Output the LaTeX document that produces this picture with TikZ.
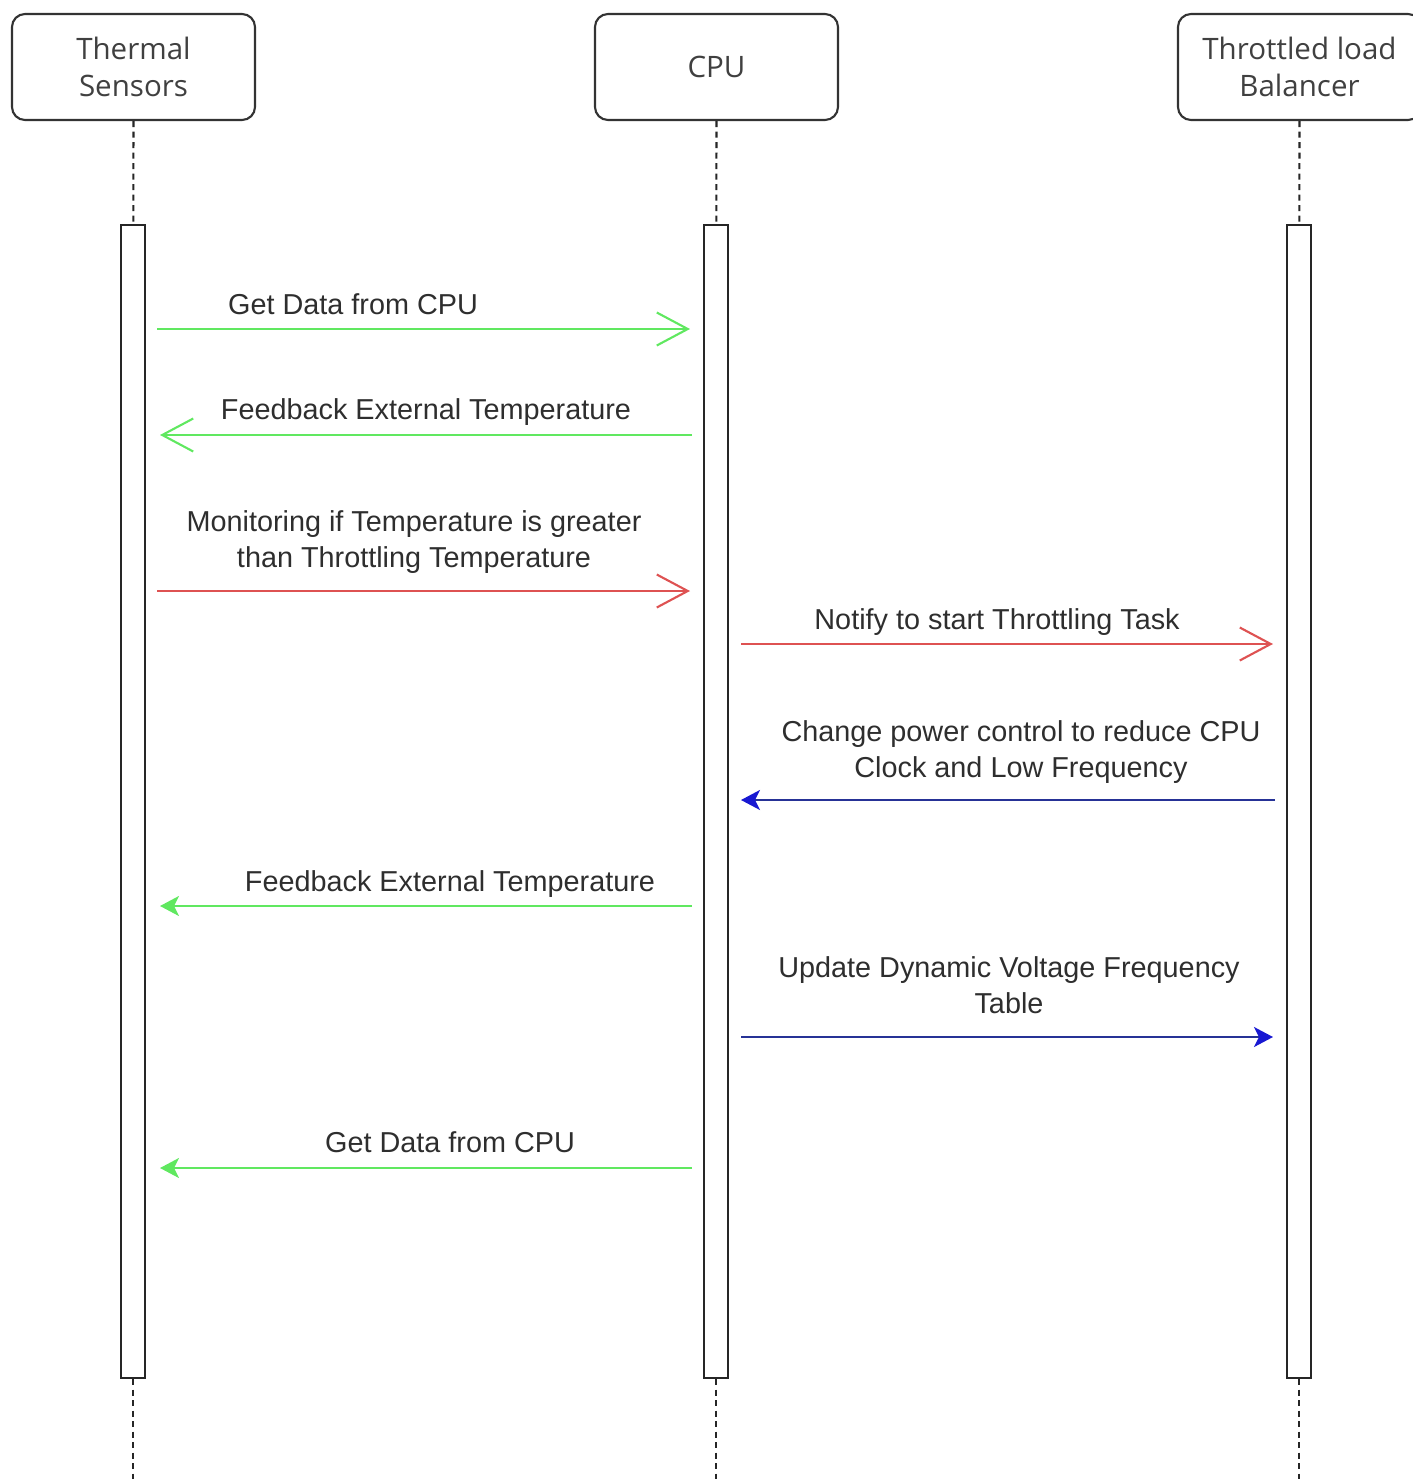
\documentclass[tikz,border=0pt]{standalone}
\usepackage{fontspec}
\setmainfont{Liberation Sans}
\newfontfamily\headfont{Open Sans}
\usetikzlibrary{arrows.meta}

\definecolor{msggreen}{RGB}{96,232,96}
\definecolor{msgred}{RGB}{222,82,82}
\definecolor{msgblue}{RGB}{38,50,150}
\definecolor{tipblue}{RGB}{24,24,210}

\tikzset{
  actor/.style={draw=black!80, line width=0.6pt, rounded corners=1.3mm, minimum width=24.3mm, minimum height=10.6mm, align=center, font=\headfont\fontsize{8.4}{10.5}\selectfont, text=black!75},
  bar/.style={draw=black!85, line width=0.6pt, fill=white, minimum width=2.4mm, minimum height=115.3mm, inner sep=0pt},
  life/.style={draw=black!85, line width=0.6pt, dash pattern=on 0.6mm off 0.45mm},
  msg/.style={font=\fontsize{8.2}{10.2}\selectfont, align=center, text=black!82, inner sep=0pt, anchor=base},
  async/.style={line width=0.6pt, -{Straight Barb[length=3.1mm,width=3.3mm]}},
  sync/.style={line width=0.6pt, -{Stealth[length=1.9mm,width=2mm,inset=0.5mm]}}
}

\begin{document}
\begin{tikzpicture}[x=0.1mm, y=-0.1mm]
\useasboundingbox (0,0) rectangle (1413,1479);

\node [actor] (ts) at (133.5,67) {Thermal\\Sensors};
\node [actor] (cpu) at (716.5,67) {CPU};
\node [actor] (tlb) at (1299.5,67) {Throttled load\\Balancer};

\coordinate (ts-foot) at (133,1479);
\coordinate (cpu-foot) at (716,1479);
\coordinate (tlb-foot) at (1299,1479);

\node [bar] (ts-bar) at (133,801.5) {};
\node [bar] (cpu-bar) at (716,801.5) {};
\node [bar] (tlb-bar) at (1299,801.5) {};

\draw [life] (ts) -- (ts-bar);
\draw [life] (cpu) -- (cpu-bar);
\draw [life] (tlb) -- (tlb-bar);
\draw [life] (ts-bar) -- (ts-foot);
\draw [life] (cpu-bar) -- (cpu-foot);
\draw [life] (tlb-bar) -- (tlb-foot);

\coordinate (ts1) at (157,329);
\coordinate (cpu1) at (690,329);
\coordinate (cpu2) at (692,435);
\coordinate (ts2) at (160,435);
\coordinate (ts3) at (157,591);
\coordinate (cpu3) at (690,591);
\coordinate (cpu4) at (741,644);
\coordinate (tlb4) at (1273,644);
\coordinate (tlb5) at (1275,800);
\coordinate (cpu5) at (741,800);
\coordinate (cpu6) at (692,906);
\coordinate (ts6) at (160,906);
\coordinate (cpu7) at (741,1037);
\coordinate (tlb7) at (1273,1037);
\coordinate (cpu8) at (692,1168);
\coordinate (ts8) at (160,1168);

\node [msg] (l1) at (353,314) {Get Data from CPU};
\node [msg] (l2) at (426,419) {Feedback External Temperature};
\node [msg] (l3) at (414,567) {Monitoring if Temperature is greater\\than Throttling Temperature};
\node [msg] (l4) at (997,629) {Notify to start Throttling Task};
\node [msg] (l5) at (1021,777) {Change power control to reduce CPU\\Clock and Low Frequency};
\node [msg] (l6) at (450,891) {Feedback External Temperature};
\node [msg] (l7) at (1009,1013) {Update Dynamic Voltage Frequency\\Table};
\node [msg] (l8) at (450,1152) {Get Data from CPU};

\draw [async, msggreen] (ts1) -- (cpu1);
\draw [async, msggreen] (cpu2) -- (ts2);
\draw [async, msgred] (ts3) -- (cpu3);
\draw [async, msgred] (cpu4) -- (tlb4);
\draw [sync, msgblue, -{Stealth[length=1.9mm,width=2mm,inset=0.5mm,color=tipblue]}] (tlb5) -- (cpu5);
\draw [sync, msggreen] (cpu6) -- (ts6);
\draw [sync, msgblue, -{Stealth[length=1.9mm,width=2mm,inset=0.5mm,color=tipblue]}] (cpu7) -- (tlb7);
\draw [sync, msggreen] (cpu8) -- (ts8);
\end{tikzpicture}
\end{document}
